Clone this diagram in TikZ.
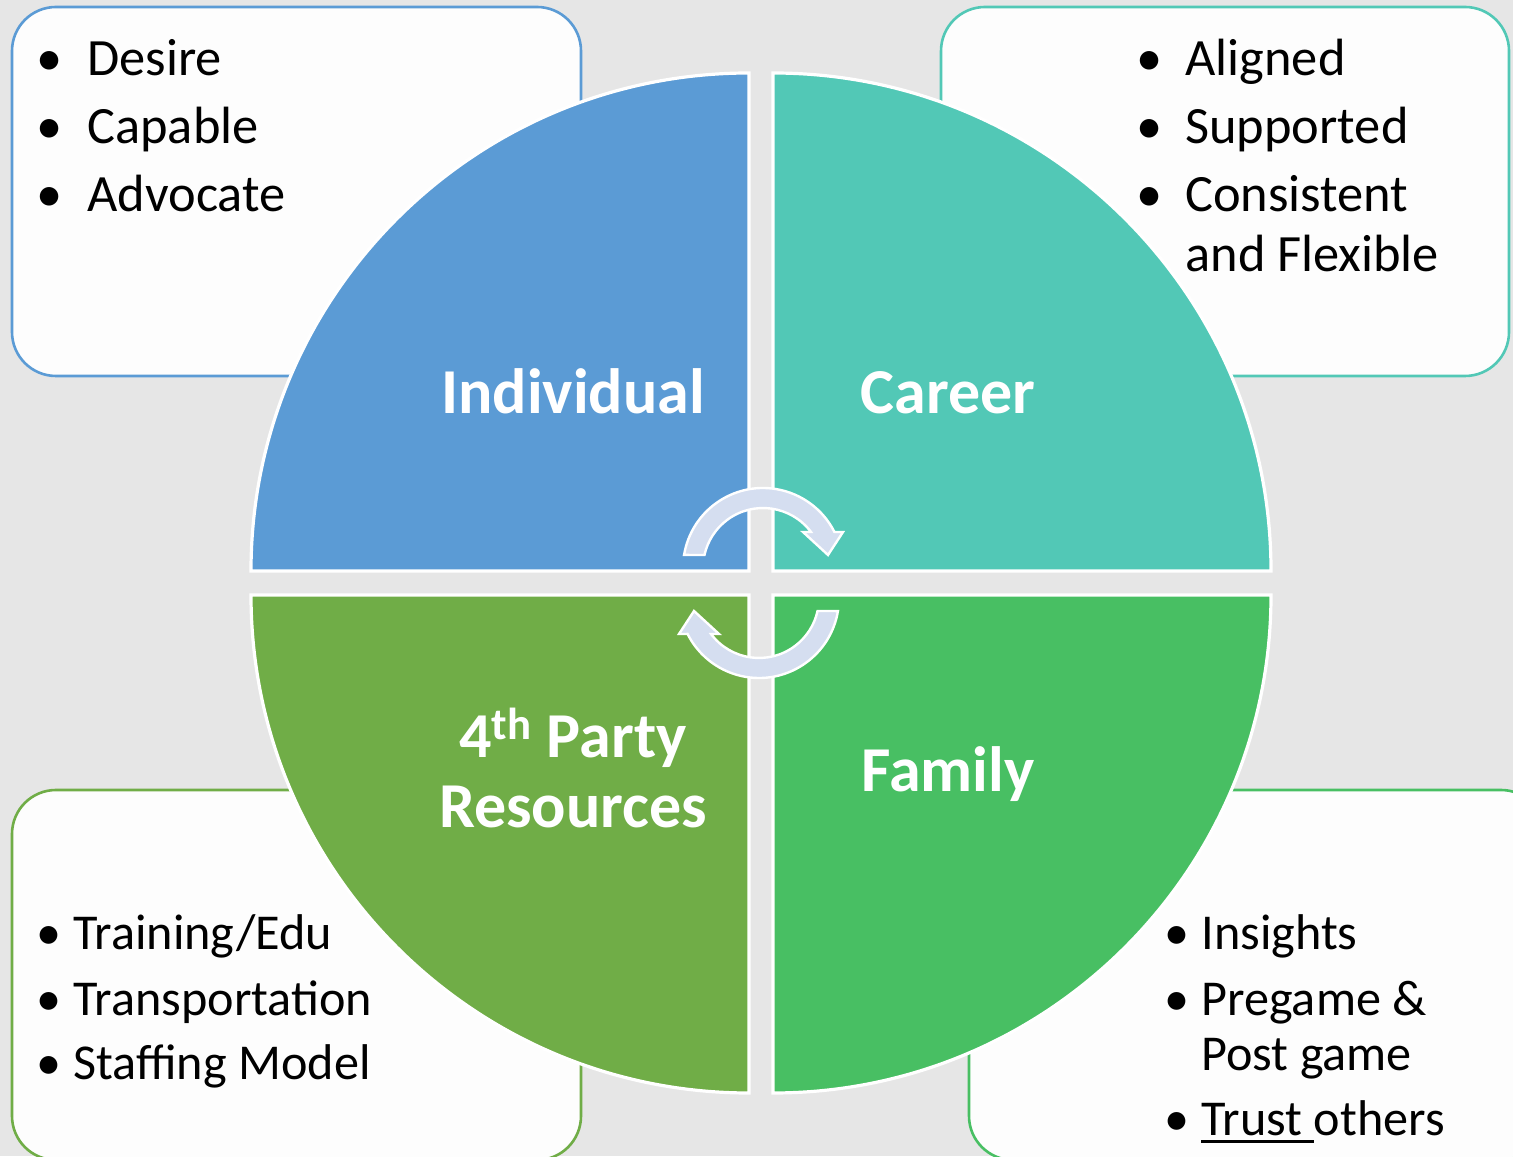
\documentclass[tikz,border=0pt]{standalone}
\usepackage{fontspec}
\setmainfont{Carlito}
\usetikzlibrary{calc}
\definecolor{bgc}{HTML}{E6E6E6}
\definecolor{boxfill}{HTML}{FDFDFD}
\definecolor{cblue}{HTML}{5B9BD5}
\definecolor{cteal}{HTML}{52C8B6}
\definecolor{cgreenA}{HTML}{70AD47}
\definecolor{cgreenB}{HTML}{48BF63}
\definecolor{arrowc}{HTML}{D5DEF0}
\newcommand\ulthick[1]{\setbox0\hbox{#1}\rlap{\rule[-4pt]{\wd0}{1.5pt}}\box0}
\begin{document}
\begin{tikzpicture}[x=0.5pt,y=0.5pt,
  infobox/.style={rounded corners=22pt, fill=boxfill, line width=1.3pt},
  quad/.style={draw=white, line width=1.6pt},
  lbl/.style={text=white, font=\fontsize{32}{35}\selectfont\bfseries, align=center, inner sep=0pt},
  itemA/.style={anchor=base west, inner sep=0pt, font=\fontsize{26.2}{30}\selectfont},
  itemB/.style={anchor=base west, inner sep=0pt, font=\fontsize{25.1}{27.5}\selectfont},
  cyc/.style={fill=arrowc, draw=white, line width=1.2pt, line join=miter},
  cycarrow/.pic={
    \filldraw[cyc] (-76.93,28.07) arc[start angle=170.6, end angle=26.7, radius=80]
      -- (82,51) -- (67,28) -- (42,51) -- (50,51)
      arc[start angle=36.9, end angle=167.5, radius=60] -- cycle;
  }]
\fill[bgc] (0,0) rectangle (1513,1156);
\useasboundingbox (0,0) rectangle (1513,1156);
\clip (0,0) rectangle (1513,1156);
% info boxes
\draw[infobox, draw=cblue] (12,780) rectangle (581,1149);
\draw[infobox, draw=cteal] (941,780) rectangle (1509,1149);
\draw[infobox, draw=cgreenA] (12,-4) rectangle (581,366);
\draw[infobox, draw=cgreenB] (969,-4) rectangle (1545,366);
% quadrants
\filldraw[quad, fill=cblue] (749,585) -- (251,585) arc[start angle=180, end angle=90, radius=498] -- cycle;
\filldraw[quad, fill=cteal] (773,585) -- (773,1083) arc[start angle=90, end angle=0, radius=498] -- cycle;
\filldraw[quad, fill=cgreenA] (749,561) -- (251,561) arc[start angle=180, end angle=270, radius=498] -- cycle;
\filldraw[quad, fill=cgreenB] (773,561) -- (1271,561) arc[start angle=0, end angle=-90, radius=498] -- cycle;
% labels
\node[lbl, anchor=base] (ind) at (573,742) {Individual};
\node[lbl, anchor=base] (car) at (948,742) {Career};
\node[lbl, anchor=base] (fam) at (948,364) {Family};
\node[lbl] (res) at (573,388) {4\textsuperscript{th} Party\\Resources};
% cycle arrows
\pic at (761,573) {cycarrow};
\pic[rotate=180] at (761,573) {cycarrow};
% top-left list
\node[itemA] (tl1) at (36,1080) {\makebox[25.5pt][l]{\textbullet}Desire};
\node[itemA] (tl2) at (36,1012) {\makebox[25.5pt][l]{\textbullet}Capable};
\node[itemA] (tl3) at (36,944) {\makebox[25.5pt][l]{\textbullet}Advocate};
% top-right list
\node[itemA] (tr1) at (1136,1080) {\makebox[24.5pt][l]{\textbullet}Aligned};
\node[itemA] (tr2) at (1136,1012) {\makebox[24.5pt][l]{\textbullet}Supported};
\node[itemA] (tr3) at (1136,944) {\makebox[24.5pt][l]{\textbullet}\begin{tabular}[t]{@{}l@{}}Consistent\\and Flexible\end{tabular}};
% bottom-left list
\node[itemB] (bl1) at (36,207) {\makebox[18.5pt][l]{\textbullet}Training/Edu};
\node[itemB] (bl2) at (36,141) {\makebox[18.5pt][l]{\textbullet}Transportation};
\node[itemB] (bl3) at (36,77) {\makebox[18.5pt][l]{\textbullet}Staffing Model};
% bottom-right list
\node[itemB] (br1) at (1164,207) {\makebox[18.5pt][l]{\textbullet}Insights};
\node[itemB] (br2) at (1164,141) {\makebox[18.5pt][l]{\textbullet}\begin{tabular}[t]{@{}l@{}}Pregame \&\\Post game\end{tabular}};
\node[itemB] (br3) at (1164,21) {\makebox[18.5pt][l]{\textbullet}\ulthick{Trust\ }others};
\end{tikzpicture}
\end{document}
